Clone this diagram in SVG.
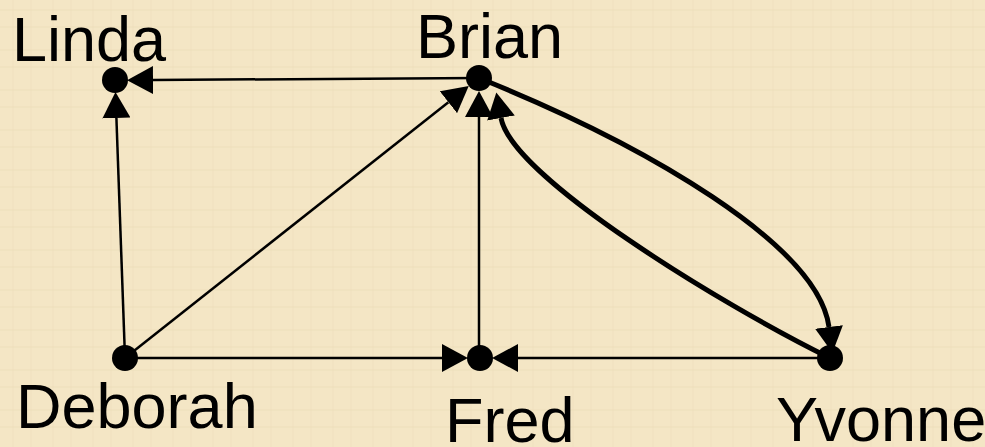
<svg xmlns="http://www.w3.org/2000/svg" width="985" height="447" viewBox="0 0 985 447">
<style>
.lbl{font-family:"Liberation Sans",Arial,sans-serif;font-size:63px;fill:#000}
.thin{fill:none;stroke:#000;stroke-width:2.5}
.thick{fill:none;stroke:#000;stroke-width:5}
.dot{fill:#000}
</style>
<defs>
<marker id="ah" markerUnits="userSpaceOnUse" markerWidth="26" markerHeight="28" viewBox="0 0 25 27" refX="0" refY="13.5" orient="auto">
<path d="M0,0 L25,13.5 L0,27 Z" fill="#000"/>
</marker>
<pattern id="tex" width="40" height="40" patternUnits="userSpaceOnUse">
<rect width="40" height="40" fill="#F4E6C5"/>
<path d="M0,10 H40 M0,27 H40" stroke="#EAD9B3" stroke-width="1" opacity="0.6"/>
<path d="M13,0 V40 M31,0 V40" stroke="#EBDCB7" stroke-width="1" opacity="0.5"/>
</pattern>
</defs>
<rect width="985" height="447" fill="url(#tex)"/>
<g id="connectors">
<path class="thin" d="M479,78 L153,80" marker-end="url(#ah)"/>
<path class="thin" d="M125,358 L116.4,118" marker-end="url(#ah)"/>
<path class="thin" d="M125,358 L448.4,102.2" marker-end="url(#ah)"/>
<path class="thin" d="M125,358 L442,358" marker-end="url(#ah)"/>
<path class="thin" d="M479,358 L479,117" marker-end="url(#ah)"/>
<path class="thin" d="M830,358 L518,358" marker-end="url(#ah)"/>
<path class="thick" d="M479,78 C646,145 818,245 829,327" marker-end="url(#ah)"/>
<path class="thick" d="M830,358 C722,305 511.8,176.8 501,118" marker-end="url(#ah)"/>
</g>
<g id="linda"><circle class="dot" cx="115" cy="80" r="13"/><text class="lbl" x="12" y="61">Linda</text></g>
<g id="brian"><circle class="dot" cx="479" cy="78" r="13"/><text class="lbl" x="416" y="58">Brian</text></g>
<g id="deborah"><circle class="dot" cx="125" cy="358" r="13"/><text class="lbl" x="16" y="428">Deborah</text></g>
<g id="fred"><circle class="dot" cx="480" cy="358" r="13"/><text class="lbl" x="445" y="442">Fred</text></g>
<g id="yvonne"><circle class="dot" cx="830" cy="358" r="13"/><text class="lbl" x="776" y="441">Yvonne</text></g>
</svg>
